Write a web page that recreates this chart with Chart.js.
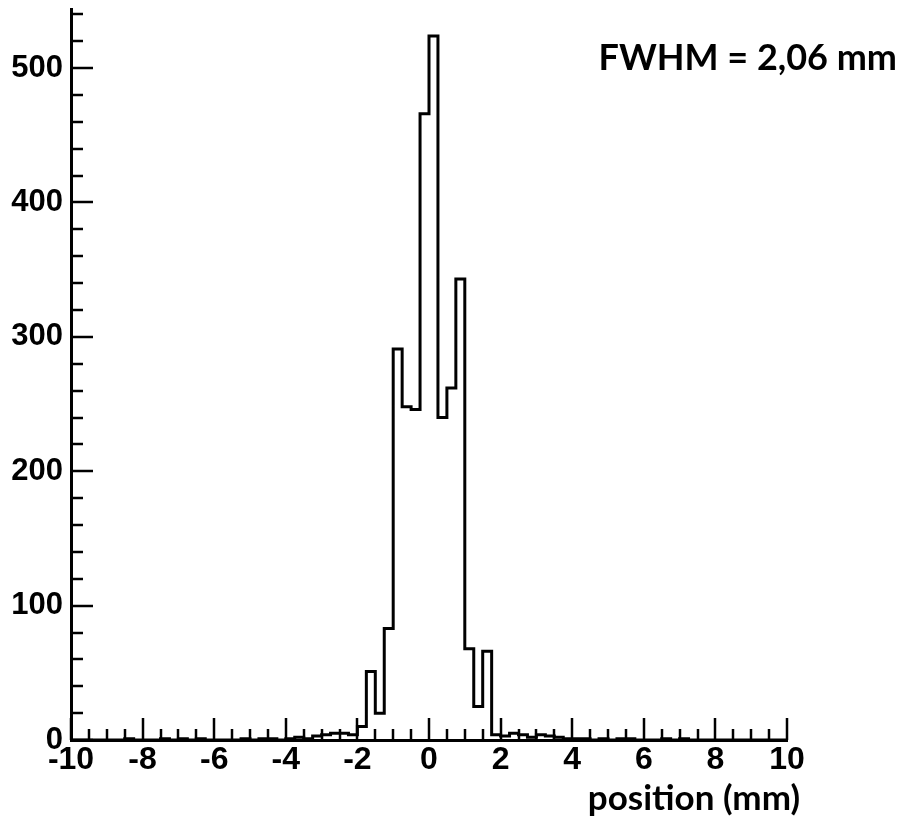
<!DOCTYPE html>
<html>
<head>
<meta charset="utf-8">
<script src="https://cdn.jsdelivr.net/npm/chart.js@4/dist/chart.umd.min.js"></script>
<style>
  html, body { margin: 0; padding: 0; background: #fff; }
  #wrap { position: relative; width: 903px; height: 827px; }
</style>
</head>
<body>
<div id="wrap"><canvas id="c"></canvas></div>
<script>
// ---- data ----
const binStart = -10;
const binWidth = 0.25;
// counts per bin, bins of 0.25 mm from -10 to 10
const counts = [
  0, 0, 0, 0, 0, 0, 1, 0,      // -10 .. -8
  0, 0, 1, 0, 1, 0, 1, 0,      // -8 .. -6
  0, 0, 0, 1, 0, 1, 1, 0,      // -6 .. -4
  1, 2, 1, 3, 4, 5, 5, 4,      // -4 .. -2
  10, 51, 20, 83, 291, 248, 246, 466,   // -2 .. 0
  524, 240, 262, 343, 68, 25, 66, 4,    // 0 .. 2
  3, 5, 4, 2, 4, 3, 2, 1,      // 2 .. 4
  1, 1, 0, 1, 0, 1, 1, 0,      // 4 .. 6
  0, 0, 1, 0, 1, 0, 0, 0,      // 6 .. 8
  0, 0, 0, 0, 0, 0, 0, 0       // 8 .. 10
];
const xTickValues = [-10, -8, -6, -4, -2, 0, 2, 4, 6, 8, 10];
const yTickValues = [0, 100, 200, 300, 400, 500];
const annotationText = 'FWHM = 2,06 mm';
const xAxisTitle = 'position (mm)';

// ---- build step points (left bin edges + closing right edge) ----
const points = counts.map((c, i) => ({ x: binStart + i * binWidth, y: c }));
points.push({ x: binStart + counts.length * binWidth, y: counts[counts.length - 1] });

const inwardTicks = {
  id: 'inwardTicks',
  afterDatasetsDraw(chart) {
    const { ctx, scales: { x, y }, chartArea } = chart;
    ctx.save();
    ctx.strokeStyle = '#000';
    ctx.lineWidth = 2.5;
    ctx.lineCap = 'butt';
    // x ticks every 0.5, major every 2
    for (let k = 0; k <= 40; k++) {
      const v = -10 + k * 0.5;
      const px = Math.round(x.getPixelForValue(v));
      const len = (k % 4 === 0) ? 22 : 11;
      ctx.beginPath();
      ctx.moveTo(px, chartArea.bottom);
      ctx.lineTo(px, chartArea.bottom - len);
      ctx.stroke();
    }
    // y ticks every 20, major every 100
    for (let k = 0; k <= 27; k++) {
      const v = k * 20;
      const py = Math.round(y.getPixelForValue(v));
      const len = (k % 5 === 0) ? 22 : 12;
      ctx.beginPath();
      ctx.moveTo(chartArea.left, py);
      ctx.lineTo(chartArea.left + len, py);
      ctx.stroke();
    }
    // annotation and axis title
    ctx.fillStyle = '#000';
    ctx.textAlign = 'right';
    ctx.textBaseline = 'alphabetic';
    ctx.font = 'bold 36px Lato';
    ctx.fillText(annotationText, 897, 70);
    ctx.font = 'bold 35px Lato';
    ctx.fillText(xAxisTitle, 800, 810);
    ctx.restore();
  }
};

Chart.defaults.color = '#000';
new Chart(document.getElementById('c'), {
  type: 'line',
  data: {
    datasets: [{
      data: points,
      stepped: true,
      borderColor: '#000',
      borderWidth: 3,
      pointRadius: 0,
      fill: false,
      tension: 0
    }]
  },
  options: {
    responsive: true,
    maintainAspectRatio: false,
    animation: false,
    events: [],
    layout: { padding: { top: 9, right: 116, left: 0, bottom: 0 } },
    plugins: { legend: { display: false }, tooltip: { enabled: false } },
    scales: {
      x: {
        type: 'linear',
        min: -10, max: 10,
        grid: { display: false },
        border: { display: true, color: '#000', width: 3 },
        afterBuildTicks: (s) => { s.ticks = xTickValues.map(v => ({ value: v })); },
        afterFit: (s) => { s.height = 87; s.paddingLeft = 0; s.paddingRight = 0; },
        ticks: {
          autoSkip: false, maxRotation: 0, padding: -7,
          font: { family: 'Liberation Sans', weight: 'bold', size: 32 },
          color: '#000'
        }
      },
      y: {
        type: 'linear',
        min: 0, max: 544,
        grid: { display: false },
        border: { display: true, color: '#000', width: 3 },
        afterBuildTicks: (s) => { s.ticks = yTickValues.map(v => ({ value: v })); },
        afterFit: (s) => { s.width = 71; s.paddingTop = 0; s.paddingBottom = 0; },
        ticks: {
          padding: 0,
          font: { family: 'Liberation Sans', weight: 'bold', size: 31 },
          color: '#000'
        }
      }
    }
  },
  plugins: [inwardTicks]
});
</script>
</body>
</html>
